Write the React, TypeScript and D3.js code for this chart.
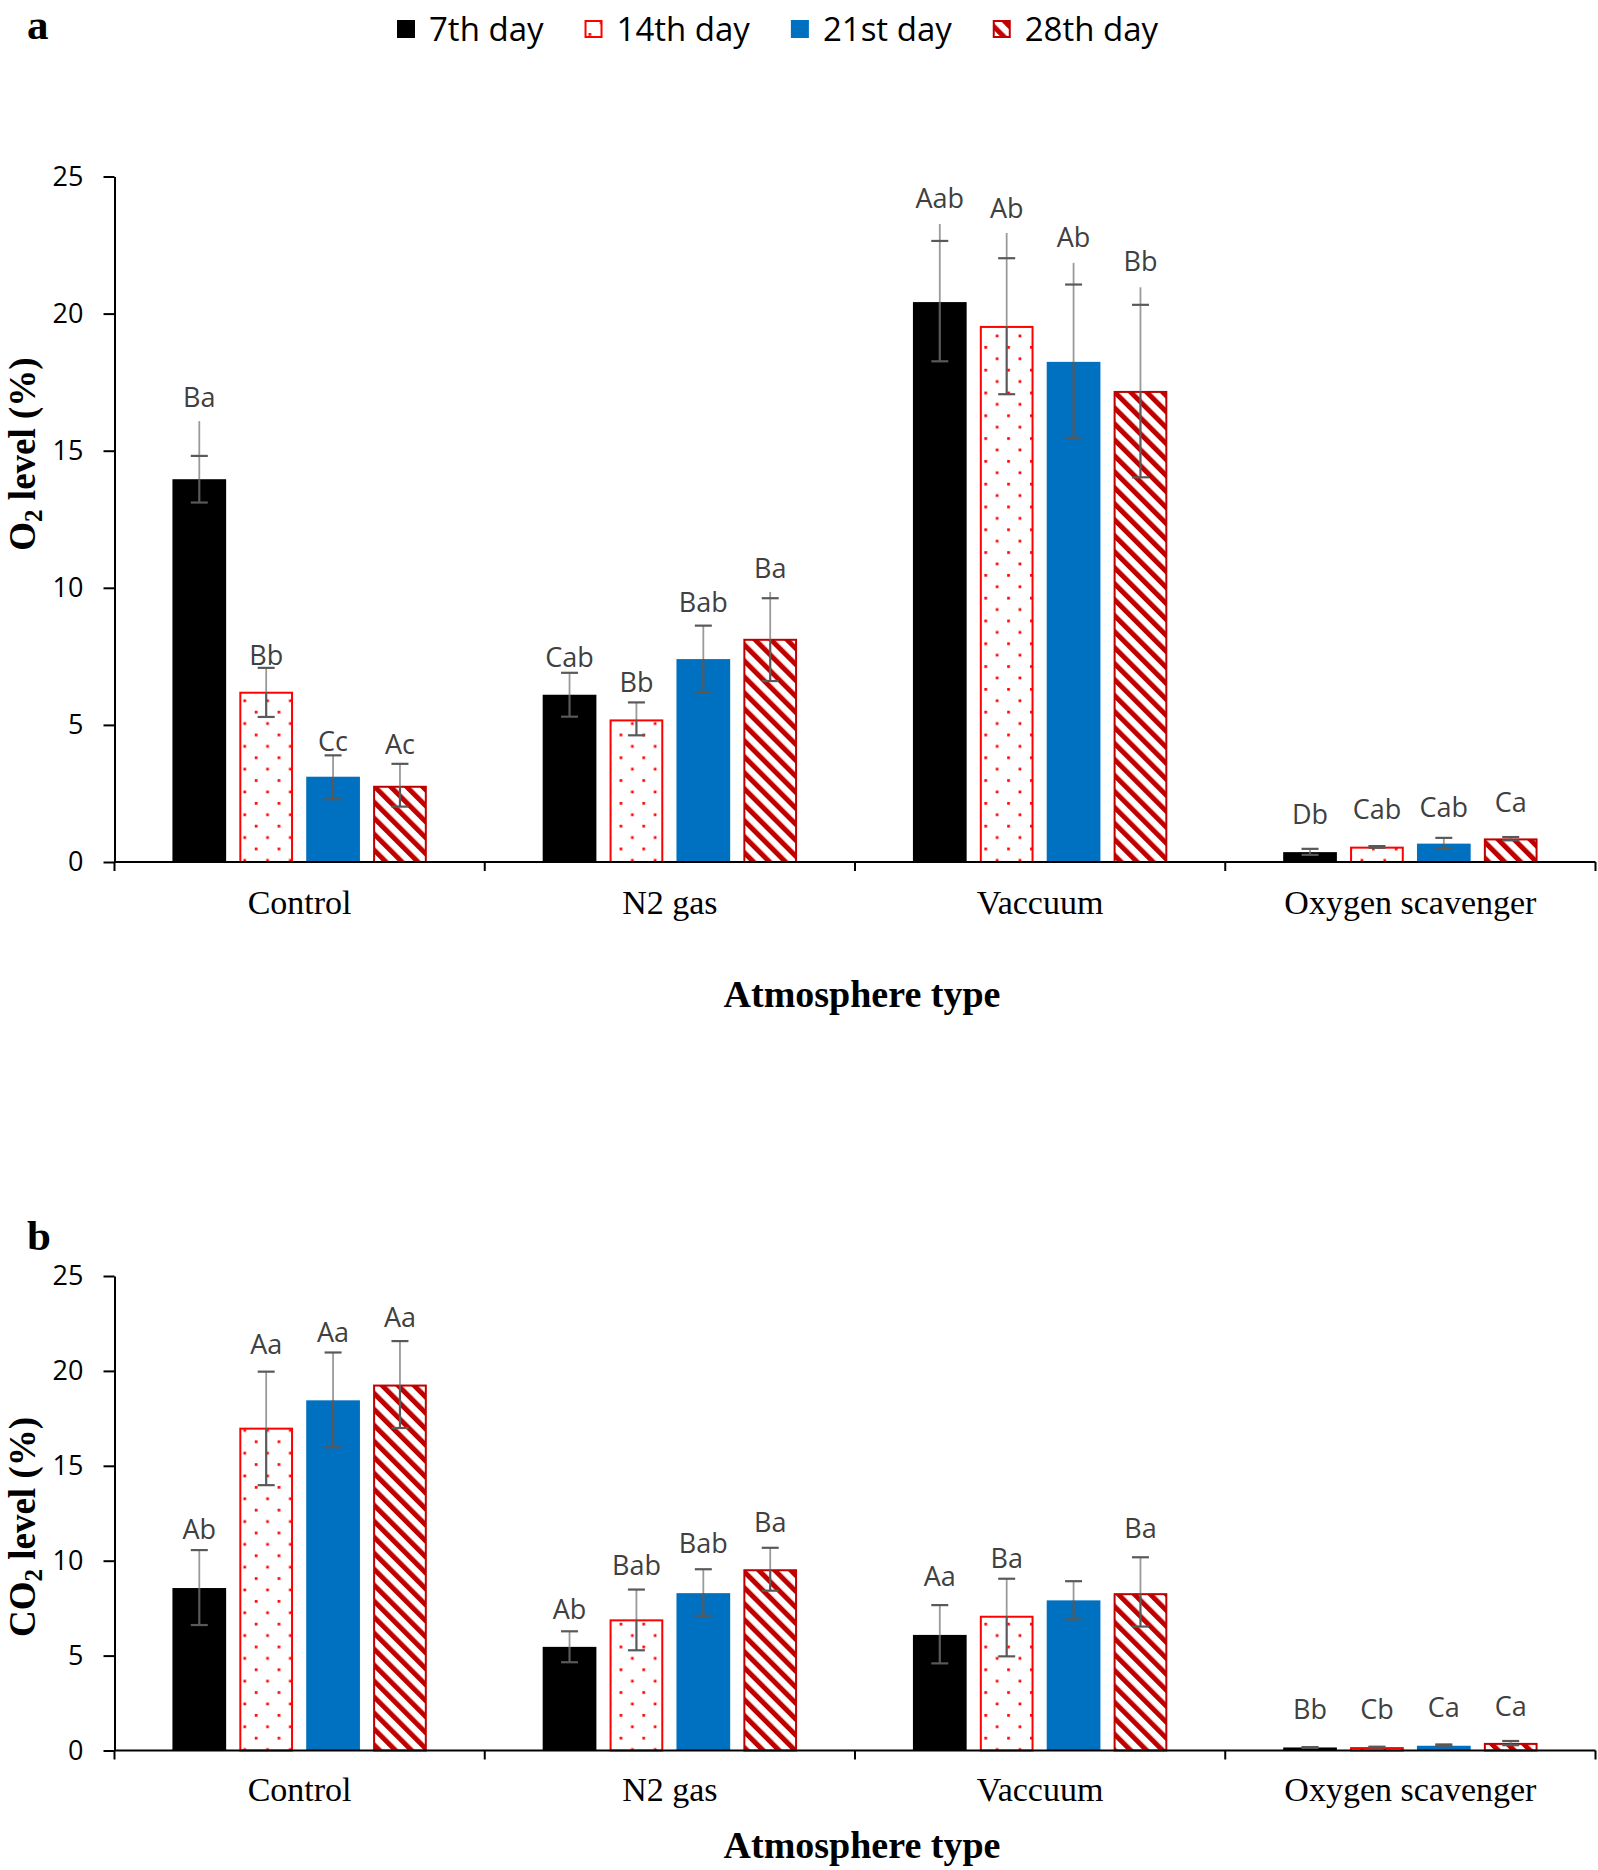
import { useEffect, useRef } from "react";
import * as d3 from "d3";

const width = 1598;
const height = 1870;

const atmospheres = ["Control", "N2 gas", "Vaccuum", "Oxygen scavenger"];
const days = ["7th day", "14th day", "21st day", "28th day"];
const yTicks = [0, 5, 10, 15, 20, 25];

// panel a: O2 level (%), rows = atmosphere, cols = day
const o2Mean = [
  [13.96, 6.21, 3.11, 2.78],
  [6.1, 5.2, 7.4, 8.14],
  [20.42, 19.55, 18.24, 17.18],
  [0.36, 0.56, 0.67, 0.86],
];
const o2Hi = [
  [14.81, 7.08, 3.89, 3.58],
  [6.9, 5.82, 8.62, 9.62],
  [22.65, 22.02, 21.06, 20.32],
  [0.48, 0.58, 0.88, 0.91],
];
const o2Lo = [
  [13.11, 5.29, 2.29, 2.02],
  [5.3, 4.62, 6.19, 6.6],
  [18.26, 17.06, 15.47, 14.03],
  [0.26, 0.52, 0.49, 0.79],
];
// whisker line that runs on past the upper cap
const o2Tail = [
  [16.08, null, null, null],
  [null, null, null, 9.85],
  [23.27, 22.94, 21.85, 20.96],
  [null, null, null, null],
];
const o2Letters = [
  ["Ba", "Bb", "Cc", "Ac"],
  ["Cab", "Bb", "Bab", "Ba"],
  ["Aab", "Ab", "Ab", "Bb"],
  ["Db", "Cab", "Cab", "Ca"],
];
const o2LetterAt = [
  [16.95, 7.53, 4.4, 4.28],
  [7.46, 6.55, 9.46, 10.72],
  [24.2, 23.85, 22.78, 21.9],
  [1.73, 1.91, 2.0, 2.16],
];

// panel b: CO2 level (%)
const co2Mean = [
  [8.56, 17.01, 18.45, 19.28],
  [5.46, 6.91, 8.29, 9.55],
  [6.09, 7.1, 7.91, 8.29],
  [0.16, 0.18, 0.25, 0.4],
];
const co2Hi = [
  [10.56, 19.96, 20.97, 21.57],
  [6.28, 8.48, 9.55, 10.68],
  [7.66, 9.05, 8.92, 10.18],
  [0.18, 0.2, 0.32, 0.5],
];
const co2Lo = [
  [6.61, 13.98, 15.98, 16.99],
  [4.65, 5.28, 7.1, 8.42],
  [4.59, 4.96, 6.91, 6.53],
  [0.14, 0.16, 0.25, 0.28],
];
const co2Tail = [
  [null, null, null, null],
  [null, null, null, null],
  [null, null, null, null],
  [null, null, null, null],
];
const co2Letters = [
  ["Ab", "Aa", "Aa", "Aa"],
  ["Ab", "Bab", "Bab", "Ba"],
  ["Aa", "Ba", "", "Ba"],
  ["Bb", "Cb", "Ca", "Ca"],
];
const co2LetterAt = [
  [11.64, 21.37, 22.0, 22.8],
  [7.41, 9.74, 10.93, 12.0],
  [9.17, 10.11, 0, 11.68],
  [2.16, 2.16, 2.26, 2.3],
];

const serif = "'Liberation Serif', 'Times New Roman', serif";
const sans = "'Open Sans', sans-serif";
const fills = ["#000000", "url(#dots)", "#0070c0", "url(#hatch)"];
const strokes = [null, "#ff0000", null, "#c00000"];

const drawPanel = (svg, p) => {
  const x0 = d3.scaleBand().domain(atmospheres).range([114.5, 1595.5]);
  const x1 = d3
    .scaleBand()
    .domain(days)
    .range([0, x0.bandwidth()])
    .paddingInner(0.197)
    .paddingOuter(0.866);
  const y = d3.scaleLinear().domain([0, 25]).range(p.yRange);

  const g = svg.append("g");

  // y axis
  g.append("g")
    .attr("transform", `translate(114.5,0)`)
    .call(d3.axisLeft(y).tickValues(yTicks).tickSize(11).tickSizeOuter(0).tickPadding(20))
    .call((a) => a.selectAll("path,line").attr("stroke", "#000").attr("stroke-width", 2))
    .call((a) =>
      a.selectAll("text").attr("font-family", sans).attr("font-size", 27).attr("fill", "#000"),
    );

  // bars
  const rows = atmospheres.map((a, i) =>
    days.map((d, j) => ({
      a,
      d,
      j,
      v: p.mean[i][j],
      hi: p.hi[i][j],
      lo: p.lo[i][j],
      tail: p.tail[i][j],
      label: p.letters[i][j],
      labelAt: p.letterAt[i][j],
    })),
  );
  const flat = rows.flat();

  g.append("g")
    .selectAll("rect")
    .data(flat)
    .join("rect")
    .attr("x", (d) => x0(d.a) + x1(d.d) + (strokes[d.j] ? 1 : 0))
    .attr("width", (d) => x1.bandwidth() - (strokes[d.j] ? 2 : 0))
    .attr("y", (d) => y(d.v) + (strokes[d.j] ? 1 : 0))
    .attr("height", (d) => Math.max(0, y(0) - y(d.v) - (strokes[d.j] ? 1 : 0)))
    .attr("fill", (d) => fills[d.j])
    .attr("stroke", (d) => strokes[d.j] || "none")
    .attr("stroke-width", 2);

  // x axis
  const xa = g.append("g").attr("stroke", "#000").attr("stroke-width", 2);
  xa.append("line")
    .attr("x1", 114.5)
    .attr("x2", 1595.5)
    .attr("y1", y(0))
    .attr("y2", y(0));
  const edges = atmospheres.map((a) => x0(a)).concat([x0.range()[1]]);
  xa.selectAll(".tk")
    .data(edges)
    .join("line")
    .attr("x1", (d) => d)
    .attr("x2", (d) => d)
    .attr("y1", y(0))
    .attr("y2", y(0) + 9);

  g.append("g")
    .selectAll("text")
    .data(atmospheres)
    .join("text")
    .attr("x", (d) => x0(d) + x0.bandwidth() / 2)
    .attr("y", y(0) + p.catDy)
    .attr("text-anchor", "middle")
    .attr("font-family", serif)
    .attr("font-size", 34)
    .text((d) => d);

  // error bars
  const eb = g.append("g").selectAll("g").data(flat).join("g");
  const cx = (d) => x0(d.a) + x1(d.d) + x1.bandwidth() / 2;
  eb.append("line")
    .attr("x1", cx)
    .attr("x2", cx)
    .attr("y1", (d) => y(d.v))
    .attr("y2", (d) => y(Math.max(d.hi, d.tail ?? 0)))
    .attr("stroke", "#9a9a9a")
    .attr("stroke-width", 1.8);
  eb.append("line")
    .attr("x1", cx)
    .attr("x2", cx)
    .attr("y1", (d) => y(d.v))
    .attr("y2", (d) => y(d.lo))
    .attr("stroke", "#595959")
    .attr("stroke-width", 2.2);
  ["hi", "lo"].forEach((k) =>
    eb
      .append("line")
      .attr("x1", (d) => cx(d) - 8.5)
      .attr("x2", (d) => cx(d) + 8.5)
      .attr("y1", (d) => y(d[k]))
      .attr("y2", (d) => y(d[k]))
      .attr("stroke", "#595959")
      .attr("stroke-width", 2.2),
  );

  // letters
  g.append("g")
    .selectAll("text")
    .data(flat.filter((d) => d.label))
    .join("text")
    .attr("x", cx)
    .attr("y", (d) => y(d.labelAt) + 9.5)
    .attr("text-anchor", "middle")
    .attr("font-family", sans)
    .attr("font-size", 27)
    .attr("fill", "#404040")
    .text((d) => d.label);

  // titles
  g.append("text")
    .attr("x", x0.range()[0] + (x0.range()[1] - x0.range()[0]) / 2 + 7)
    .attr("y", p.titleY)
    .attr("text-anchor", "middle")
    .attr("font-family", serif)
    .attr("font-weight", "bold")
    .attr("font-size", 38)
    .text("Atmosphere type");

  const yl = g
    .append("text")
    .attr("transform", `translate(35,${p.yLabelY}) rotate(-90)`)
    .attr("text-anchor", "middle")
    .attr("font-family", serif)
    .attr("font-weight", "bold")
    .attr("font-size", 37);
  yl.append("tspan").text(p.yPrefix);
  yl.append("tspan").attr("font-size", 25).attr("dy", 7).text("2");
  yl.append("tspan").attr("dy", -7).text(" level (%)");

  g.append("text")
    .attr("x", 27)
    .attr("y", p.letterY)
    .attr("font-family", serif)
    .attr("font-weight", "bold")
    .attr("font-size", 43)
    .text(p.letter);
};

const App = () => {
  const ref = useRef(null);

  useEffect(() => {
    const svg = d3.select(ref.current);
    svg.selectAll("*").remove();

    const defs = svg.append("defs");
    const dots = defs
      .append("pattern")
      .attr("id", "dots")
      .attr("patternUnits", "userSpaceOnUse")
      .attr("width", 22.8)
      .attr("height", 22.8);
    dots.append("rect").attr("width", 22.8).attr("height", 22.8).attr("fill", "#fff");
    dots.append("rect").attr("x", 4).attr("y", 4).attr("width", 2.7).attr("height", 2.7).attr("fill", "#ff0000");
    dots.append("rect").attr("x", 15.4).attr("y", 15.4).attr("width", 2.7).attr("height", 2.7).attr("fill", "#ff0000");

    const hatch = defs
      .append("pattern")
      .attr("id", "hatch")
      .attr("patternUnits", "userSpaceOnUse")
      .attr("width", 11.3)
      .attr("height", 11.3)
      .attr("patternTransform", "rotate(-45)");
    hatch.append("rect").attr("width", 11.3).attr("height", 11.3).attr("fill", "#fff");
    hatch.append("rect").attr("width", 5).attr("height", 11.3).attr("fill", "#c00000");

    drawPanel(svg, {
      yRange: [862, 176.5],
      mean: o2Mean,
      hi: o2Hi,
      lo: o2Lo,
      tail: o2Tail,
      letters: o2Letters,
      letterAt: o2LetterAt,
      catDy: 52,
      titleY: 1007,
      yLabelY: 454,
      yPrefix: "O",
      letter: "a",
      letterY: 39,
    });
    drawPanel(svg, {
      yRange: [1750.5, 1276],
      mean: co2Mean,
      hi: co2Hi,
      lo: co2Lo,
      tail: co2Tail,
      letters: co2Letters,
      letterAt: co2LetterAt,
      catDy: 50,
      titleY: 1858,
      yLabelY: 1527,
      yPrefix: "CO",
      letter: "b",
      letterY: 1250,
    });

    // legend
    const lg = svg.append("g").attr("transform", "translate(397,29)");
    let lx = 0;
    days.forEach((d, i) => {
      const item = lg.append("g").attr("transform", `translate(${lx},0)`);
      const s = strokes[i] ? 1 : 0;
      item
        .append("rect")
        .attr("x", s)
        .attr("y", -9 + s)
        .attr("width", 18 - 2 * s)
        .attr("height", 18 - 2 * s)
        .attr("fill", fills[i])
        .attr("stroke", strokes[i] || "none")
        .attr("stroke-width", 2);
      const t = item
        .append("text")
        .attr("x", 32)
        .attr("y", 11.5)
        .attr("font-family", sans)
        .attr("font-size", 33)
        .attr("fill", "#000")
        .text(d);
      lx += 32 + t.node().getComputedTextLength() + 41;
    });
  }, []);

  return (
    <svg
      ref={ref}
      width={width}
      height={height}
      viewBox={`0 0 ${width} ${height}`}
      style={{ position: "absolute", left: 0, top: 0, background: "#fff" }}
    />
  );
};

export default App;
